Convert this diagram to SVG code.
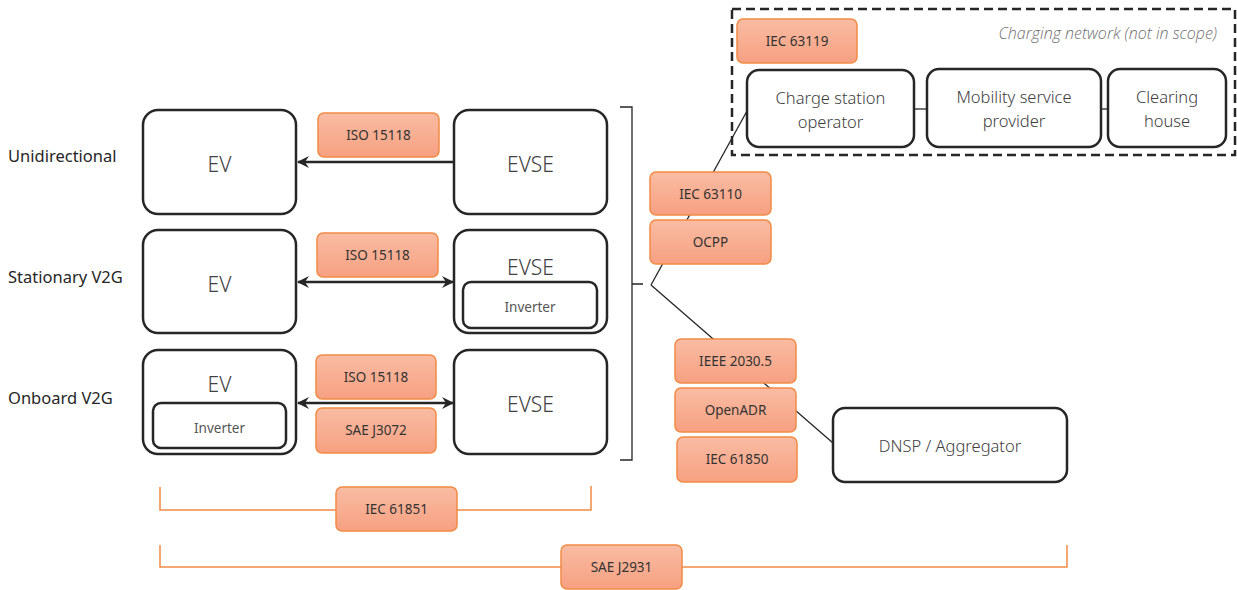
<svg xmlns="http://www.w3.org/2000/svg" width="1237" height="590" viewBox="0 0 1237 590">
  <defs>
    <linearGradient id="stdFill" x1="0" y1="0" x2="0" y2="1">
      <stop offset="0" stop-color="#F9BCA3"/>
      <stop offset="1" stop-color="#F7A081"/>
    </linearGradient>
    <marker id="arrow" viewBox="0 0 12 12" refX="11" refY="6" markerWidth="12" markerHeight="12" markerUnits="userSpaceOnUse" orient="auto-start-reverse">
      <path d="M0,0 L12,6 L0,12 L4,6 Z" fill="#262626"/>
    </marker>
    <style>
      .node { fill: #fff; stroke: #262626; stroke-width: 2.5; }
      .inner { fill: #fff; stroke: #262626; stroke-width: 2.5; }
      .std { fill: url(#stdFill); stroke: #F28A45; stroke-width: 1.5; }
      .stdtxt { font-family: "Noto Sans", "Open Sans", sans-serif; font-size: 13.5px; fill: #333; text-anchor: middle; }
      .big { font-family: "Noto Sans", "Open Sans", sans-serif; font-size: 21px; font-weight: 300; fill: #404040; text-anchor: middle; }
      .mid { font-family: "Noto Sans", "Open Sans", sans-serif; font-size: 16.5px; font-weight: 300; fill: #404040; text-anchor: middle; }
      .small { font-family: "Noto Sans", "Open Sans", sans-serif; font-size: 13.5px; fill: #555; text-anchor: middle; }
      .row { font-family: "Noto Sans", "Open Sans", sans-serif; font-size: 16.5px; fill: #262626; }
      .note { font-family: "Open Sans", "Noto Sans", sans-serif; font-size: 16px; font-style: italic; font-weight: 300; fill: #707070; text-anchor: end; }
      .link { fill: none; stroke: #262626; stroke-width: 1.3; }
      .flow { fill: none; stroke: #262626; stroke-width: 2.5; }
      .scope { fill: none; stroke: #F28A45; stroke-width: 1.5; }
    </style>
  </defs>

  <!-- row captions -->
  <text class="row" x="8" y="162">Unidirectional</text>
  <text class="row" x="8" y="283">Stationary V2G</text>
  <text class="row" x="8" y="404">Onboard V2G</text>

  <!-- charging network boundary -->
  <g id="charging-network">
    <rect x="732" y="9" width="503" height="146" fill="none" stroke="#262626" stroke-width="2.5" stroke-dasharray="9 5"/>
    <text class="note" x="1217" y="39">Charging network (not in scope)</text>
  </g>

  <!-- connectors -->
  <g id="connectors">
    <line class="flow" x1="454" y1="162" x2="298" y2="162" marker-end="url(#arrow)"/>
    <line class="flow" x1="298" y1="282" x2="453" y2="282" marker-start="url(#arrow)" marker-end="url(#arrow)"/>
    <line class="flow" x1="298" y1="403" x2="453" y2="403" marker-start="url(#arrow)" marker-end="url(#arrow)"/>
    <!-- brace grouping the three EVSE rows -->
    <path class="link" d="M620,107 H632 V460 H620 M632,284 H643"/>
    <line class="link" x1="651" y1="285" x2="747" y2="111"/>
    <line class="link" x1="651" y1="285" x2="833" y2="443"/>
    <line class="link" x1="914" y1="109" x2="927" y2="109"/>
    <line class="link" x1="1101" y1="109" x2="1108" y2="109"/>
    <!-- scope brackets -->
    <path class="scope" d="M160,487 V510 H591 V486"/>
    <path class="scope" d="M160,545 V567 H1067 V545"/>
  </g>

  <!-- EV / EVSE nodes -->
  <g id="ev-uni">
    <rect class="node" x="143" y="110" width="153" height="104" rx="15"/>
    <text class="big" x="219.5" y="172">EV</text>
  </g>
  <g id="evse-uni">
    <rect class="node" x="454" y="110" width="153" height="104" rx="15"/>
    <text class="big" x="530.5" y="172">EVSE</text>
  </g>
  <g id="ev-stationary">
    <rect class="node" x="143" y="230" width="153" height="103" rx="15"/>
    <text class="big" x="219.5" y="292">EV</text>
  </g>
  <g id="evse-stationary">
    <rect class="node" x="454" y="230" width="153" height="103" rx="15"/>
    <text class="big" x="530.5" y="275">EVSE</text>
    <rect class="inner" x="463" y="282" width="134" height="46" rx="8"/>
    <text class="small" x="530" y="312">Inverter</text>
  </g>
  <g id="ev-onboard">
    <rect class="node" x="143" y="350" width="153" height="104" rx="15"/>
    <text class="big" x="219.5" y="392">EV</text>
    <rect class="inner" x="153" y="403" width="133" height="45" rx="8"/>
    <text class="small" x="219.5" y="433">Inverter</text>
  </g>
  <g id="evse-onboard">
    <rect class="node" x="454" y="350" width="153" height="104" rx="15"/>
    <text class="big" x="530.5" y="412">EVSE</text>
  </g>

  <!-- network actors -->
  <g id="cso">
    <rect class="node" x="747" y="70" width="167" height="77" rx="12"/>
    <text class="mid" x="830.5" y="104">Charge station</text>
    <text class="mid" x="830.5" y="128">operator</text>
  </g>
  <g id="msp">
    <rect class="node" x="927" y="69" width="174" height="78" rx="12"/>
    <text class="mid" x="1014" y="103">Mobility service</text>
    <text class="mid" x="1014" y="127">provider</text>
  </g>
  <g id="clearing-house">
    <rect class="node" x="1108" y="69" width="118" height="78" rx="12"/>
    <text class="mid" x="1167" y="103">Clearing</text>
    <text class="mid" x="1167" y="127">house</text>
  </g>
  <g id="dnsp">
    <rect class="node" x="833" y="408" width="234" height="74" rx="12"/>
    <text class="mid" x="950" y="452">DNSP / Aggregator</text>
  </g>

  <!-- standard labels -->
  <g id="std-iso-uni">
    <rect class="std" x="318" y="113" width="121" height="44" rx="6"/>
    <text class="stdtxt" x="378.5" y="140">ISO 15118</text>
  </g>
  <g id="std-iso-stationary">
    <rect class="std" x="317" y="233" width="121" height="44" rx="6"/>
    <text class="stdtxt" x="377.5" y="260">ISO 15118</text>
  </g>
  <g id="std-iso-onboard">
    <rect class="std" x="316" y="355" width="120" height="44" rx="6"/>
    <text class="stdtxt" x="376" y="382">ISO 15118</text>
  </g>
  <g id="std-sae-j3072">
    <rect class="std" x="316" y="408" width="120" height="45" rx="6"/>
    <text class="stdtxt" x="376" y="435">SAE J3072</text>
  </g>
  <g id="std-iec-63119">
    <rect class="std" x="737" y="19" width="120" height="44" rx="6"/>
    <text class="stdtxt" x="797" y="46">IEC 63119</text>
  </g>
  <g id="std-iec-63110">
    <rect class="std" x="650" y="172" width="121" height="43" rx="6"/>
    <text class="stdtxt" x="710.5" y="199">IEC 63110</text>
  </g>
  <g id="std-ocpp">
    <rect class="std" x="650" y="220" width="121" height="44" rx="6"/>
    <text class="stdtxt" x="710.5" y="247">OCPP</text>
  </g>
  <g id="std-ieee-2030-5">
    <rect class="std" x="675" y="339" width="121" height="44" rx="6"/>
    <text class="stdtxt" x="735.5" y="366">IEEE 2030.5</text>
  </g>
  <g id="std-openadr">
    <rect class="std" x="675" y="388" width="121" height="44" rx="6"/>
    <text class="stdtxt" x="735.5" y="415">OpenADR</text>
  </g>
  <g id="std-iec-61850">
    <rect class="std" x="677" y="437" width="120" height="45" rx="6"/>
    <text class="stdtxt" x="737" y="464">IEC 61850</text>
  </g>
  <g id="std-iec-61851">
    <rect class="std" x="336" y="487" width="121" height="44" rx="6"/>
    <text class="stdtxt" x="396.5" y="514">IEC 61851</text>
  </g>
  <g id="std-sae-j2931">
    <rect class="std" x="561" y="545" width="121" height="44" rx="6"/>
    <text class="stdtxt" x="621.5" y="572">SAE J2931</text>
  </g>
</svg>
